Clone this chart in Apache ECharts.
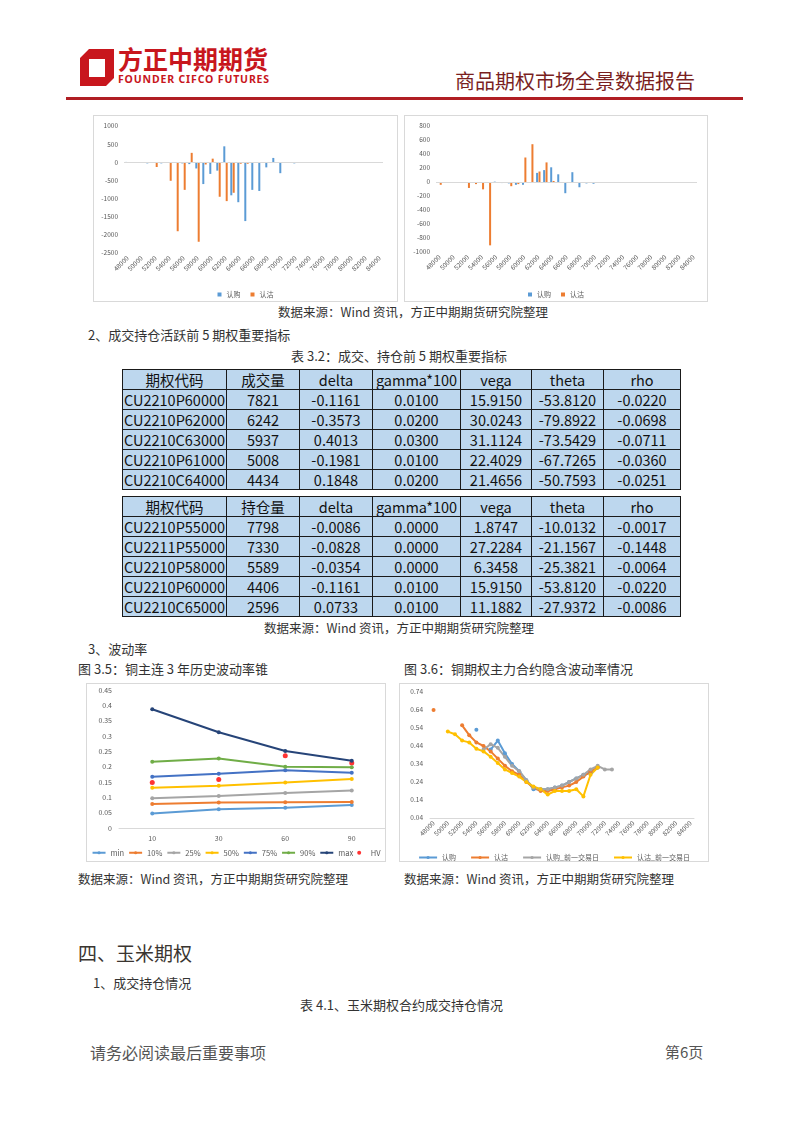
<!DOCTYPE html>
<html>
<head>
<meta charset="utf-8">
<script src="https://cdn.jsdelivr.net/npm/echarts/dist/echarts.min.js"></script>
<style>
  body { margin: 0; background: #fff; }
  #page { position: relative; width: 802px; height: 1133px; overflow: hidden;
    font-family: "Noto Sans CJK SC", "Noto Sans", sans-serif; color: #333; }
  .t { position: absolute; white-space: nowrap; line-height: 1; }
  .box { position: absolute; border: 1px solid #d9d9d9; box-sizing: border-box; }
  table.grk { position: absolute; border-collapse: collapse; table-layout: fixed; }
  table.grk td { border: 1px solid #1a1a1a; background: #bdd7ee; height: 19px; padding: 0;
    text-align: center; font-size: 14.5px; line-height: 19px; color: #111; overflow: hidden; }
</style>
</head>
<body>
<div id="page">
  <!-- header -->
  <svg style="position:absolute;left:80px;top:49px" width="34" height="37" viewBox="0 0 34 37">
    <path d="M9 0 H34 V29 L26 37 H0 V9 Z M9 10 V28 H25 V10 Z" fill="#c8161d" fill-rule="evenodd"/>
  </svg>
  <div class="t" style="left:118px;top:46px;font-size:25px;font-weight:bold;color:#c8161d">方正中期期货</div>
  <div class="t" style="left:118px;top:74px;font-size:10.5px;font-weight:bold;color:#c8161d;font-family:'Noto Sans';letter-spacing:0.85px">FOUNDER CIFCO FUTURES</div>
  <div class="t" style="left:455px;top:71px;font-size:20px;color:#7a1f1f">商品期权市场全景数据报告</div>
  <div style="position:absolute;left:66px;top:97px;width:677px;height:3px;background:#b01e23"></div>

  <div class="box" style="left:93px;top:115px;width:305px;height:187px"><div id="c1" style="width:303px;height:185px"></div></div>
  <div class="box" style="left:404px;top:115px;width:304px;height:187px"><div id="c2" style="width:302px;height:185px"></div></div>

  <div class="t" style="left:278px;top:306px;font-size:12.5px">数据来源：Wind 资讯，方正中期期货研究院整理</div>
  <div class="t" style="left:88px;top:328px;font-size:13px">2、成交持仓活跃前 5 期权重要指标</div>
  <div class="t" style="left:291px;top:349px;font-size:13px">表 3.2：成交、持仓前 5 期权重要指标</div>

  <table class="grk" id="tb1" style="left:122px;top:369px"></table>
  <table class="grk" id="tb2" style="left:122px;top:496px"></table>

  <div class="t" style="left:264px;top:622px;font-size:12.5px">数据来源：Wind 资讯，方正中期期货研究院整理</div>
  <div class="t" style="left:88px;top:642px;font-size:13px">3、波动率</div>
  <div class="t" style="left:78px;top:662px;font-size:13px">图 3.5：铜主连 3 年历史波动率锥</div>
  <div class="t" style="left:404px;top:662px;font-size:13px">图 3.6：铜期权主力合约隐含波动率情况</div>

  <div class="box" style="left:86px;top:683px;width:300px;height:179px"><div id="c3" style="width:298px;height:177px"></div></div>
  <div class="box" style="left:399px;top:683px;width:310px;height:179px"><div id="c4" style="width:308px;height:177px"></div></div>

  <div class="t" style="left:78px;top:873px;font-size:12.5px">数据来源：Wind 资讯，方正中期期货研究院整理</div>
  <div class="t" style="left:404px;top:873px;font-size:12.5px">数据来源：Wind 资讯，方正中期期货研究院整理</div>

  <div class="t" style="left:78px;top:943px;font-size:19px;color:#3a3530">四、玉米期权</div>
  <div class="t" style="left:93px;top:976px;font-size:13px">1、成交持仓情况</div>
  <div class="t" style="left:300px;top:998px;font-size:13px">表 4.1、玉米期权合约成交持仓情况</div>

  <div class="t" style="left:90px;top:1044px;font-size:16px;color:#555">请务必阅读最后重要事项</div>
  <div class="t" style="left:665px;top:1044px;font-size:15px;color:#555">第6页</div>
</div>

<script>
// strike categories shared by the three strike charts
const strikes = ['48000','49000','50000','51000','52000','53000','54000','55000','56000','57000',
  '58000','59000','60000','61000','62000','63000','64000','65000','66000','67000',
  '68000','69000','70000','71000','72000','73000','74000','75000','76000','77000',
  '78000','79000','80000','81000','82000','83000','84000'];

// top-left chart (成交量变化)
const volCall = [10, 0, 0, -30, 0, -30, 0, -20, -30, -50, -170, -600, -320, -230, 440, -910, -1100, -1620, -760, -790,
  -140, 120, -300, 0, -30, 0, 0, 0, 0, 0, 0, 0, 0, 0, 0, 0, -10];
const volPut = [-10, -10, -10, -10, -130, -20, -510, -1900, -760, 260, -2190, -60, 100, -950, -1070, -840, -40, -40, 0, 0,
  0, 0, 0, 0, 0, 0, 0, 0, 0, 0, 0, 0, 0, 0, 0, 0, 0];

// top-right chart (持仓量变化)
const oiCall = [0, 0, 0, 0, 0, 0, 0, 0, 5, -15, -20, -40, -40, 0, 130, 170, 210, 110, -160, 140,
  -75, -20, -25, 0, 0, 0, 0, 0, 0, 0, 0, 0, 0, 0, 0, 0, 0];
const oiPut = [-40, 0, 0, 0, -85, -30, -105, -905, 0, 0, -60, -30, 350, 540, 150, 280, 15, 0, 0, 0,
  0, 0, 0, 0, 0, 0, 0, 0, 0, 0, 0, 0, 0, 0, 0, 0, 0];

// volatility cone
const coneDays = ['10', '30', '60', '90'];
const coneMin = [0.047, 0.061, 0.066, 0.075];
const cone10 = [0.078, 0.083, 0.084, 0.085];
const cone25 = [0.097, 0.104, 0.114, 0.122];
const cone50 = [0.131, 0.138, 0.148, 0.160];
const cone75 = [0.167, 0.177, 0.188, 0.180];
const cone90 = [0.216, 0.227, 0.200, 0.198];
const coneMax = [0.387, 0.312, 0.251, 0.219];
const coneHV = [0.148, 0.158, 0.236, 0.212];

// implied vol smile
const ivCall = [null, null, null, null, null, null, 0.53, null, 0.42, 0.47, 0.40, 0.34, 0.30, 0.25, 0.20, 0.20, 0.20, 0.21, 0.22, 0.24,
  0.26, 0.28, 0.29, 0.32];
const ivPut = [0.64, null, null, null, 0.555, 0.50, 0.46, 0.44, 0.41, 0.37, 0.33, 0.30, 0.28, 0.24, 0.21, 0.19, 0.19, 0.20, 0.21, 0.22,
  0.24, 0.27, 0.30, 0.32];
const ivCallPrev = [null, null, null, null, null, null, null, 0.42, 0.45, 0.43, 0.38, 0.33, 0.30, 0.25, 0.21, 0.20, 0.20, 0.21, 0.22, 0.24,
  0.26, 0.28, 0.31, 0.33, 0.31, 0.31];
const ivPutPrev = [null, null, 0.52, 0.505, 0.47, 0.46, 0.425, 0.41, 0.38, 0.345, 0.31, 0.29, 0.27, 0.24, 0.215, 0.20, 0.17, 0.19, 0.19, 0.19,
  0.20, 0.16, 0.28, 0.32];

// tables
const colWidths = [104, 73, 73, 88, 71, 72, 77];
const tradeHead = ['期权代码', '成交量', 'delta', 'gamma*100', 'vega', 'theta', 'rho'];
const tradeRows = [
  ['CU2210P60000', '7821', '-0.1161', '0.0100', '15.9150', '-53.8120', '-0.0220'],
  ['CU2210P62000', '6242', '-0.3573', '0.0200', '30.0243', '-79.8922', '-0.0698'],
  ['CU2210C63000', '5937', '0.4013', '0.0300', '31.1124', '-73.5429', '-0.0711'],
  ['CU2210P61000', '5008', '-0.1981', '0.0100', '22.4029', '-67.7265', '-0.0360'],
  ['CU2210C64000', '4434', '0.1848', '0.0200', '21.4656', '-50.7593', '-0.0251']
];
const oiHead = ['期权代码', '持仓量', 'delta', 'gamma*100', 'vega', 'theta', 'rho'];
const oiRows = [
  ['CU2210P55000', '7798', '-0.0086', '0.0000', '1.8747', '-10.0132', '-0.0017'],
  ['CU2211P55000', '7330', '-0.0828', '0.0000', '27.2284', '-21.1567', '-0.1448'],
  ['CU2210P58000', '5589', '-0.0354', '0.0000', '6.3458', '-25.3821', '-0.0064'],
  ['CU2210P60000', '4406', '-0.1161', '0.0100', '15.9150', '-53.8120', '-0.0220'],
  ['CU2210C65000', '2596', '0.0733', '0.0100', '11.1882', '-27.9372', '-0.0086']
];

function fillTable(id, head, rows) {
  let html = '<colgroup>' + colWidths.map(w => '<col style="width:' + w + 'px">').join('') + '</colgroup>';
  [head].concat(rows).forEach(r => {
    html += '<tr>' + r.map(c => '<td>' + c + '</td>').join('') + '</tr>';
  });
  document.getElementById(id).innerHTML = html;
}
fillTable('tb1', tradeHead, tradeRows);
fillTable('tb2', oiHead, oiRows);

const FONT = '"Noto Sans CJK SC", "Noto Sans", sans-serif';
const LBL = '#595959';

function barOption(callData, putData, min, max, interval, grid) {
  return {
    animation: false,
    textStyle: { fontFamily: FONT },
    grid: grid,
    legend: {
      top: 170, itemWidth: 4, itemHeight: 4, itemGap: 10, icon: 'rect',
      textStyle: { fontSize: 7, color: LBL }, data: ['认购', '认沽']
    },
    xAxis: {
      type: 'category', data: strikes,
      axisLine: { show: false }, axisTick: { show: false },
      axisLabel: { interval: 1, rotate: 45, fontSize: 6.5, color: LBL, margin: 4 }
    },
    yAxis: {
      type: 'value', min: min, max: max, interval: interval,
      splitLine: { show: false },
      axisLabel: { fontSize: 6.5, color: LBL, margin: 6, formatter: v => String(v) }
    },
    series: [
      {
        name: '认购', type: 'bar', data: callData, barWidth: 2, barGap: '20%',
        itemStyle: { color: '#5b9bd5' },
        markLine: {
          silent: true, symbol: 'none', label: { show: false },
          lineStyle: { color: '#d9d9d9', type: 'solid', width: 1 },
          data: [{ yAxis: 0 }]
        }
      },
      { name: '认沽', type: 'bar', data: putData, barWidth: 2, itemStyle: { color: '#ed7d31' } }
    ]
  };
}

const c1 = echarts.init(document.getElementById('c1'));
c1.setOption(barOption(volCall, volPut, -2500, 1000, 500, { left: 30, right: 14, top: 10, height: 127 }));

const c2 = echarts.init(document.getElementById('c2'));
c2.setOption(barOption(oiCall, oiPut, -1000, 800, 200, { left: 31, right: 10, top: 10, height: 126 }));

function lineSeries(name, data, color) {
  return {
    name: name, type: 'line', data: data, symbol: 'circle', symbolSize: 4,
    lineStyle: { width: 2, color: color }, itemStyle: { color: color }
  };
}

const c3 = echarts.init(document.getElementById('c3'));
c3.setOption({
  animation: false,
  textStyle: { fontFamily: FONT },
  grid: { left: 32, right: 0, top: 6, height: 138 },
  legend: {
    top: 165, left: 'center', padding: 0, itemWidth: 13, itemHeight: 4, itemGap: 4,
    textStyle: { fontSize: 7.5, color: LBL },
    data: ['min', '10%', '25%', '50%', '75%', '90%', 'max', 'HV']
  },
  xAxis: {
    type: 'category', data: coneDays,
    axisLine: { lineStyle: { color: '#d9d9d9' } }, axisTick: { show: false },
    axisLabel: { fontSize: 7, color: LBL, margin: 7 }
  },
  yAxis: {
    type: 'value', min: 0, max: 0.45, interval: 0.05,
    splitLine: { show: false },
    axisLabel: { fontSize: 7, color: LBL, margin: 7, formatter: v => String(+v.toFixed(2)) }
  },
  series: [
    lineSeries('min', coneMin, '#5b9bd5'),
    lineSeries('10%', cone10, '#ed7d31'),
    lineSeries('25%', cone25, '#a5a5a5'),
    lineSeries('50%', cone50, '#ffc000'),
    lineSeries('75%', cone75, '#4472c4'),
    lineSeries('90%', cone90, '#70ad47'),
    lineSeries('max', coneMax, '#264478'),
    { name: 'HV', type: 'scatter', data: coneHV, symbolSize: 5, itemStyle: { color: '#ff0000' } }
  ]
});

const c4 = echarts.init(document.getElementById('c4'));
c4.setOption({
  animation: false,
  textStyle: { fontFamily: FONT },
  grid: { left: 30, right: 14, top: 8, height: 126 },
  legend: {
    top: 165, left: 'center', itemWidth: 18, itemHeight: 4, itemGap: 14,
    textStyle: { fontSize: 7, color: LBL },
    data: ['认购', '认沽', '认购_前一交易日', '认沽_前一交易日']
  },
  xAxis: {
    type: 'category', data: strikes,
    axisLine: { lineStyle: { color: '#d9d9d9' } }, axisTick: { show: false },
    axisLabel: { interval: 1, rotate: 45, fontSize: 6.5, color: LBL, margin: 4 }
  },
  yAxis: {
    type: 'value', min: 0.04, max: 0.74, interval: 0.1,
    splitLine: { show: false },
    axisLabel: { fontSize: 6.5, color: LBL, margin: 7, formatter: v => v.toFixed(2) }
  },
  series: [
    lineSeries('认购', ivCall, '#5b9bd5'),
    lineSeries('认沽', ivPut, '#ed7d31'),
    lineSeries('认购_前一交易日', ivCallPrev, '#a5a5a5'),
    lineSeries('认沽_前一交易日', ivPutPrev, '#ffc000')
  ]
});
</script>
</body>
</html>
